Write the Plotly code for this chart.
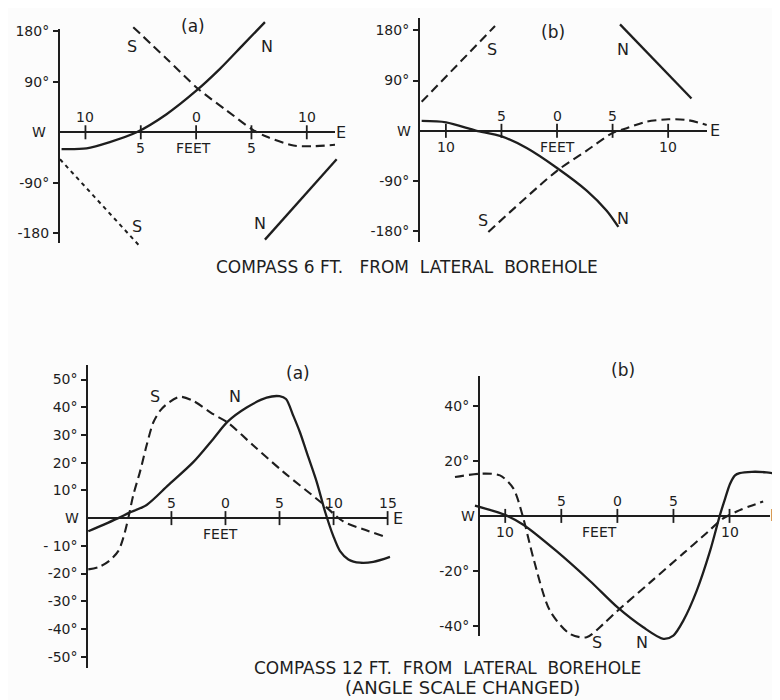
import plotly.graph_objects as go

# ---------------- DATA (feet along borehole, deflection in degrees) ----------------
# Compass 6 ft from lateral borehole, (a)
a6_N_x = [-12.16, -9.9, -7.8, -5.38, -2.67, 0.04, 2.15, 4.26, 6.22]
a6_N_y = [-29.8, -28.5, -17.4, 0, 32.2, 74.4, 112.8, 156, 196]
a6_N2_x = [6.22, 12.7]
a6_N2_y = [-191, -48]
a6_S_x = [-5.68, -2.67, 0.2, 2.75, 5.16, 6.4, 8.8, 10.6, 12.55]
a6_S_y = [187, 131, 77, 39, 4, -8, -23.6, -24.8, -22.3]
a6_S2_x = [-12.3, -5.08]
a6_S2_y = [-48, -203]

# Compass 6 ft from lateral borehole, (b)
b6_N_x = [-12.18, -9.99, -7.83, -7.23, -4.98, -2.73, -0.03, 2.67, 4.47, 5.52]
b6_N_y = [17.7, 15.3, 3.5, 0, -10, -30.7, -66, -107, -143, -172]
b6_N2_x = [5.67, 12.1]
b6_N2_y = [190.6, 57.8]
b6_S_x = [-12.18, -5.58]
b6_S_y = [51.9, 187.6]
b6_S2_x = [-6.18, -0.03, 2.67, 4.98, 6.27, 8.07, 10.02, 11.67, 13.47]
b6_S2_y = [-181, -72, -35.4, -4.1, 4.7, 16.5, 20.7, 19.5, 10.6]

# Compass 12 ft from lateral borehole, (a)
a12_N_x = [-12.69, -9.92, -8.99, -7.29, -5.29, -2.98, -1.13, 0.2, 1.96, 3.81, 5.0, 5.6,
           6.28, 6.89, 7.51, 8.44, 9.21, 9.98, 10.6, 11.37, 12.45, 13.68, 15.22]
a12_N_y = [-4.76, 0, 1.79, 4.76, 11.9, 20.2, 28.6, 34.8, 39.9, 43.5, 44, 43,
           36.9, 31, 23.8, 13.1, 2.4, -6.5, -11.9, -14.9, -16.1, -15.8, -14]
a12_S_x = [-12.69, -11.7, -10.78, -9.92, -9.45, -8.99, -8.53, -7.91, -7.3, -6.68, -6.06,
           -5.45, -4.21, -2.98, -1.13, 0.2, 2.58, 5.35, 8.74, 10.9, 12.9, 14.6]
a12_S_y = [-18.5, -17.6, -15.5, -11.9, -7.1, 0, 8.3, 16.7, 26.2, 34.5, 38.7,
           41.1, 43.8, 42.3, 37.5, 34.5, 26.2, 16.7, 6.0, -1.2, -4.2, -6.5]

# Compass 12 ft from lateral borehole, (b)
b12_N_x = [-12.7, -10.02, -8.39, -5.42, -2.44, 0.02, 2.31, 4.1, 4.99, 5.88, 7.07, 8.26,
           9.15, 9.6, 10.04, 10.49, 10.9, 12.0, 13.3, 14.5]
b12_N_y = [3.7, 0.36, -3.2, -12.8, -23.6, -33.2, -40.4, -44.6, -43.4, -38, -27.2, -12.8,
           0.36, 6.2, 11.6, 14.7, 15.5, 16, 15.8, 15]
b12_S_x = [-14.48, -12.25, -10.47, -9.28, -8.39, -7.5, -6.01, -4.23, -2.74, -1.25, 0.02,
           2.9, 5.88, 7.96, 9.4, 10.64, 11.8, 13.0]
b12_S_y = [14.1, 15.3, 14.7, 10, -0.8, -15.2, -34.4, -42.8, -44, -39.2, -34.4,
           -24.2, -13.6, -6.2, -1, 1.6, 3.5, 5.2]

# Axis ticks and labels
top_ytick_vals = [180, 90, -90, -180]
a6_ytick_text = ["180°", "90°", "-90°", "-180"]
b6_ytick_text = ["180°", "90°", "-90°", "-180°"]
a12_ytick_vals = [50, 40, 30, 20, 10, -10, -20, -30, -40, -50]
a12_ytick_text = ["50°", "40°", "30°", "20°", "10°", "- 10°", "-20°", "-30°", "-40°", "-50°"]
b12_ytick_vals = [40, 20, -20, -40]
b12_ytick_text = ["40°", "20°", "-20°", "-40°"]

a6_xtick_vals = [-10, -5, 0, 5, 10]
a6_xtick_text = ["10", "5", "0", "5", "10"]
b6_xtick_vals = [-10, -5, 0, 5, 10]
b6_xtick_text = ["10", "5", "0", "5", "10"]
a12_xtick_vals = [-5, 0, 5, 10, 15]
a12_xtick_text = ["5", "0", "5", "10", "15"]
b12_xtick_vals = [-10, -5, 0, 5, 10]
b12_xtick_text = ["10", "5", "0", "5", "10"]

# ---------------- STYLE / LAYOUT ----------------
INK = "#1e1e1e"
FONT = "DejaVu Sans"
SOLID = dict(color=INK, width=2.3)
DASH = dict(color=INK, width=2.1, dash="9px,5px")
DOT = dict(color=INK, width=2.0, dash="4px,4px")

OFF = 8            # page offset of the figure inside the browser window
FW, FH = 772, 692  # figure size so that the page fits the 780x700 window
PAD = 45           # extra drawing room around each axis frame (px)


def px_x(s):
    return (s - OFF) / FW


def px_y(s):
    return 1 - (s - OFF) / FH


# axis frames in window pixels: x from y-axis line to the E end, y from top to bottom of the y-axis line
panels = {
    1: dict(xpx=(60, 335), xr=(-12.3, 12.55), ypx=(23, 239), yr=(-197, 184)),
    2: dict(xpx=(420, 706.7), xr=(-12.33, 13.47), ypx=(12, 238), yr=(-199, 202)),
    3: dict(xpx=(88.3, 387.6), xr=(-12.69, 15.0), ypx=(361.7, 668), yr=(-54.2, 55.4)),
    4: dict(xpx=(480, 770), xr=(-12.25, 13.61), ypx=(373.3, 635), yr=(-43.4, 50.7)),
}

fig = go.Figure()


def dax(i):   # data axes (invisible, larger drawing area)
    return ("x" if i == 1 else f"x{i}"), ("y" if i == 1 else f"y{i}")


def fax(i):   # frame axes (visible axis lines, ticks)
    return f"x{i + 4}", f"y{i + 4}"


def add_line(i, xs, ys, line):
    xa, ya = dax(i)
    fig.add_trace(go.Scatter(x=xs, y=ys, mode="lines",
                             line=dict(shape="spline", smoothing=0.8, **line),
                             xaxis=xa, yaxis=ya, hoverinfo="skip"))


add_line(1, a6_N_x, a6_N_y, SOLID)
add_line(1, a6_N2_x, a6_N2_y, SOLID)
add_line(1, a6_S_x, a6_S_y, DASH)
add_line(1, a6_S2_x, a6_S2_y, DOT)

add_line(2, b6_N_x, b6_N_y, SOLID)
add_line(2, b6_N2_x, b6_N2_y, SOLID)
add_line(2, b6_S_x, b6_S_y, DASH)
add_line(2, b6_S2_x, b6_S2_y, DASH)

add_line(3, a12_N_x, a12_N_y, SOLID)
add_line(3, a12_S_x, a12_S_y, DASH)

add_line(4, b12_N_x, b12_N_y, SOLID)
add_line(4, b12_S_x, b12_S_y, DASH)

# x-axis tick marks crossing the zero line
xtick_sets = {1: (a6_xtick_vals, a6_xtick_text), 2: (b6_xtick_vals, b6_xtick_text),
              3: (a12_xtick_vals, a12_xtick_text), 4: (b12_xtick_vals, b12_xtick_text)}
label_side = {1: ["up", "down", "up", "down", "up"],
              2: ["down", "up", "up", "up", "down"],
              3: ["up", "up", "up", "up", "up"],
              4: ["down", "up", "up", "up", "down"]}
for i, (vals, texts) in xtick_sets.items():
    xa, ya = fax(i)
    fig.add_trace(go.Scatter(x=vals, y=[0] * len(vals), mode="markers",
                             marker=dict(symbol="line-ns", size=10, line=dict(color=INK, width=1.8)),
                             xaxis=xa, yaxis=ya, cliponaxis=False, hoverinfo="skip"))

annotations = []


def note(i, x, y, text, size=14, yshift=0):
    xa, ya = dax(i)
    annotations.append(dict(x=x, y=y, xref=xa, yref=ya, text=text, showarrow=False,
                            yshift=yshift, xanchor="center", yanchor="middle",
                            font=dict(family=FONT, size=size, color=INK)))


for i, (vals, texts) in xtick_sets.items():
    for v, t, s in zip(vals, texts, label_side[i]):
        note(i, v, 0, t, size=14, yshift=15 if s == "up" else -16)

# FEET labels
feet_pos = {1: -0.26, 2: 0.0, 3: -0.5, 4: -1.55}
for i, fx in feet_pos.items():
    note(i, fx, 0, "FEET", size=14, yshift=-16)

# W / E labels
we_pos = {1: (-14.2, 13.1), 2: (-13.8, 14.2), 3: (-14.2, 15.96), 4: (-13.3, 14.05)}
for i, (wx, ex) in we_pos.items():
    note(i, wx, 0, "W", size=14)
    note(i, ex, 0, "E", size=16)

# curve and panel labels
note(1, -0.29, 190, "(a)", size=17)
note(1, -5.8, 153, "S", size=16)
note(1, 6.4, 153, "N", size=16)
note(1, -5.35, -167, "S", size=16)
note(1, 5.76, -163, "N", size=16)

note(2, -0.33, 176, "(b)", size=17)
note(2, -5.88, 146, "S", size=16)
note(2, 5.97, 146, "N", size=16)
note(2, -6.63, -160, "S", size=16)
note(2, 5.97, -157, "N", size=16)

note(3, 6.74, 52.4, "(a)", size=17)
note(3, -6.52, 44, "S", size=16)
note(3, 0.88, 44, "N", size=16)

note(4, 0.53, 53.1, "(b)", size=17)
note(4, -1.79, -45.8, "S", size=16)
note(4, 2.22, -45.8, "N", size=16)

# captions
def caption(cx, cy, text, size):
    annotations.append(dict(x=px_x(cx), y=px_y(cy), xref="paper", yref="paper", showarrow=False,
                            xanchor="center", yanchor="middle", text=text,
                            font=dict(family=FONT, size=size, color=INK)))


caption(407, 263, "COMPASS 6 FT.\u00a0\u00a0 FROM\u00a0 LATERAL\u00a0 BOREHOLE", 17)
caption(447, 668, "COMPASS 12 FT.\u00a0 FROM\u00a0 LATERAL\u00a0 BOREHOLE", 17)
caption(462, 687, "(ANGLE SCALE CHANGED)", 18)

ytick_sets = {1: (top_ytick_vals, a6_ytick_text), 2: (top_ytick_vals, b6_ytick_text),
              3: (a12_ytick_vals, a12_ytick_text), 4: (b12_ytick_vals, b12_ytick_text)}

layout = dict(width=FW, height=FH, margin=dict(l=0, r=0, t=0, b=0, pad=0),
              paper_bgcolor="#fcfcfc", plot_bgcolor="rgba(0,0,0,0)", showlegend=False,
              annotations=annotations)

for i, p in panels.items():
    x0, x1 = p["xpx"]
    yt, yb = p["ypx"]
    xr0, xr1 = p["xr"]
    yr0, yr1 = p["yr"]
    sx = (x1 - x0) / (xr1 - xr0)
    sy = (yb - yt) / (yr1 - yr0)
    ex0, ex1 = max(x0 - PAD, OFF), min(x1 + PAD, OFF + FW)
    ey0, ey1 = max(yt - PAD, OFF), min(yb + PAD, OFF + FH)

    # invisible data axes with the same scale as the frame, extended drawing room
    dxk = "xaxis" if i == 1 else f"xaxis{i}"
    dyk = "yaxis" if i == 1 else f"yaxis{i}"
    dxa, dya = dax(i)
    layout[dxk] = dict(domain=[px_x(ex0), px_x(ex1)],
                       range=[xr0 - (x0 - ex0) / sx, xr1 + (ex1 - x1) / sx],
                       anchor=dya, visible=False, fixedrange=True)
    layout[dyk] = dict(domain=[px_y(ey1), px_y(ey0)],
                       range=[yr0 - (ey1 - yb) / sy, yr1 + (yt - ey0) / sy],
                       anchor=dxa, visible=False, fixedrange=True)

    # visible frame axes
    fxk, fyk = f"xaxis{i + 4}", f"yaxis{i + 4}"
    fxa, fya = fax(i)
    yv, ytx = ytick_sets[i]
    layout[fxk] = dict(domain=[px_x(x0), px_x(x1)], range=[xr0, xr1], anchor=fya,
                       showline=False, showgrid=False, zeroline=False, showticklabels=False,
                       ticks="", fixedrange=True)
    layout[fyk] = dict(domain=[px_y(yb), px_y(yt)], range=[yr0, yr1], anchor=fxa,
                       showline=True, linecolor=INK, linewidth=2, showgrid=False,
                       zeroline=True, zerolinecolor=INK, zerolinewidth=2,
                       tickvals=yv, ticktext=ytx, ticks="outside", ticklen=5, tickwidth=1.8,
                       tickcolor=INK, tickfont=dict(family=FONT, size=14, color=INK),
                       ticklabelstandoff=1, fixedrange=True)

fig.update_layout(**layout)
fig.write_html("out.html")
